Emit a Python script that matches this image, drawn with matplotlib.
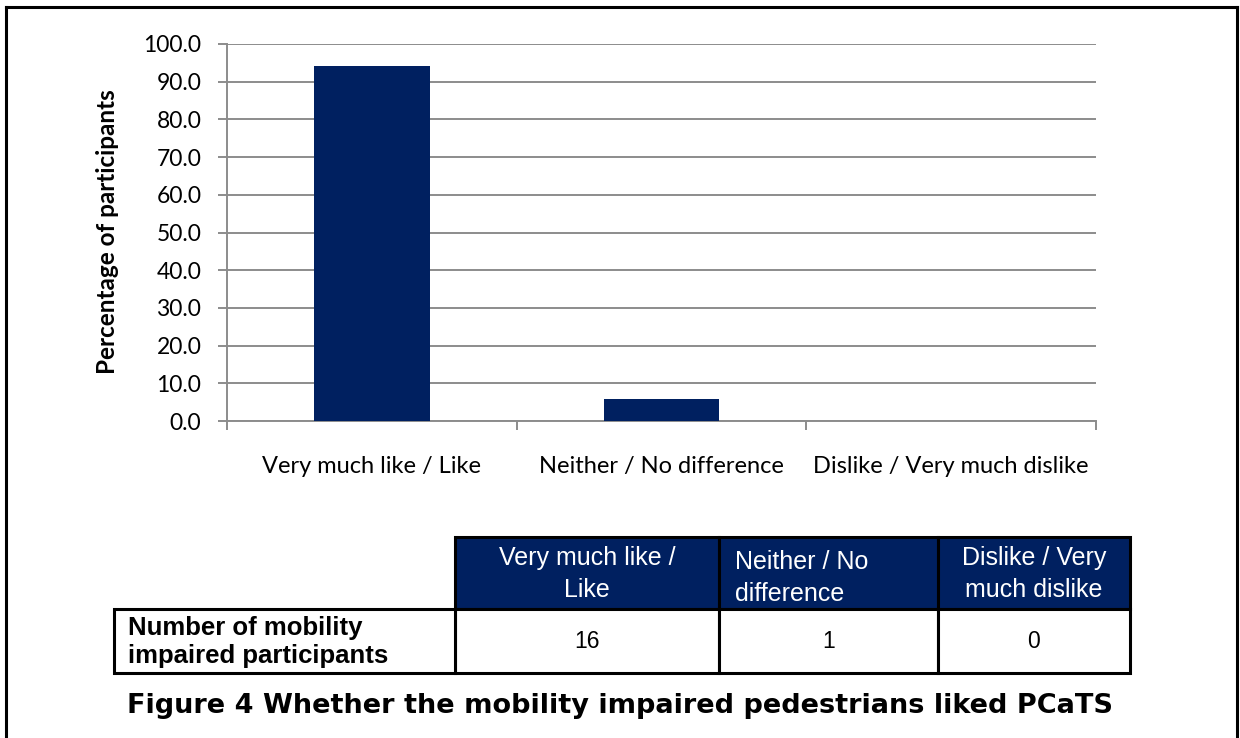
import matplotlib.pyplot as plt
from matplotlib.patches import Rectangle
from matplotlib.lines import Line2D

# data
categories = ['Very much like / Like', 'Neither / No difference', 'Dislike / Very much dislike']
percentages = [94.1, 5.9, 0.0]
header_labels = ['Very much like /\nLike', 'Neither / No\ndifference', 'Dislike / Very\nmuch dislike']
header_align = ['center', 'left', 'center']
row_label = 'Number of mobility\nimpaired participants'
counts = [16, 1, 0]
yticks = [0, 10, 20, 30, 40, 50, 60, 70, 80, 90, 100]
caption = 'Figure 4 Whether the mobility impaired pedestrians liked PCaTS'

navy = '#002060'
grid_col = '#8c8c8c'
W, H = 1240, 738

fig = plt.figure(figsize=(W / 100, H / 100), dpi=100)

def fx(x):
    return x / W

def fy(y):
    return 1 - y / H

# chart area
ax = fig.add_axes([fx(227), fy(421), fx(1096) - fx(227), fy(44) - fy(421)])
x = list(range(len(categories)))
ax.bar(x, percentages, width=0.4, color=navy, zorder=3)
ax.set_xlim(-0.5, len(categories) - 0.5)
ax.set_ylim(0, 100)
ax.set_yticks(yticks)
ax.set_yticklabels([f'{v:.1f}' for v in yticks], fontsize=16.5, family='Lato')
ax.yaxis.grid(True, color=grid_col, linewidth=1.4, zorder=0)
for s in ['top', 'right']:
    ax.spines[s].set_visible(False)
for s in ['left', 'bottom']:
    ax.spines[s].set_color(grid_col)
    ax.spines[s].set_linewidth(1.4)
ax.tick_params(axis='y', length=6.5, color=grid_col, width=1.4, pad=12)
# category boundaries as major ticks, labels at centres as minor ticks
ax.set_xticks([i - 0.5 for i in range(len(categories) + 1)])
ax.set_xticklabels([])
ax.tick_params(axis='x', which='major', length=6.5, color=grid_col, width=1.4)
ax.set_xticks(x, minor=True)
ax.set_xticklabels(categories, minor=True, fontsize=17, family='Lato')
ax.tick_params(axis='x', which='minor', length=0, pad=25.5)
ax.set_ylabel('Percentage of participants', fontsize=17.5, family='Lato', fontweight='bold')
ax.yaxis.set_label_coords(fx(119), fy(232), transform=fig.transFigure)

# table below the chart
col_edges = [455, 719, 938, 1130]
row_top, row_mid, row_bot = 537, 609, 673
lw = 2.2
for i in range(len(counts)):
    x0, x1 = col_edges[i], col_edges[i + 1]
    fig.patches.append(Rectangle((fx(x0), fy(row_mid)), fx(x1) - fx(x0), fy(row_top) - fy(row_mid),
                                 transform=fig.transFigure, facecolor=navy,
                                 edgecolor='black', linewidth=lw))
    fig.patches.append(Rectangle((fx(x0), fy(row_bot)), fx(x1) - fx(x0), fy(row_mid) - fy(row_bot),
                                 transform=fig.transFigure, facecolor='white',
                                 edgecolor='black', linewidth=lw))
    cx = fx((x0 + x1) / 2)
    if header_align[i] == 'left':
        fig.text(fx(x0 + 16), fy(578), header_labels[i], color='white',
                 ha='left', va='center', fontsize=18, family='Liberation Sans',
                 linespacing=1.45)
    else:
        fig.text(cx, fy(574), header_labels[i], color='white', ha='center',
                 va='center', fontsize=18, family='Liberation Sans', linespacing=1.45)
    fig.text(cx, fy(641), str(counts[i]), color='black',
             ha='center', va='center', fontsize=16.5, family='Liberation Sans')

fig.patches.append(Rectangle((fx(114), fy(row_bot)), fx(455) - fx(114), fy(row_mid) - fy(row_bot),
                             transform=fig.transFigure, facecolor='white',
                             edgecolor='black', linewidth=lw))
fig.text(fx(128), fy(642), row_label, ha='left', va='center',
         fontsize=18.5, fontweight='bold', family='Liberation Sans', linespacing=1.25)

# caption
fig.text(0.5, fy(706), caption, ha='center', va='center', fontsize=19.5,
         fontweight='bold', family='DejaVu Sans')

# outer frame
for xs, ys in [([6, 6], [7, 740]), ([6, 1237], [7, 7]), ([1237, 1237], [7, 740])]:
    fig.lines.append(Line2D([fx(v) for v in xs], [fy(v) for v in ys],
                            transform=fig.transFigure, color='black', linewidth=2.2))

fig.savefig('out.png', dpi=100)
